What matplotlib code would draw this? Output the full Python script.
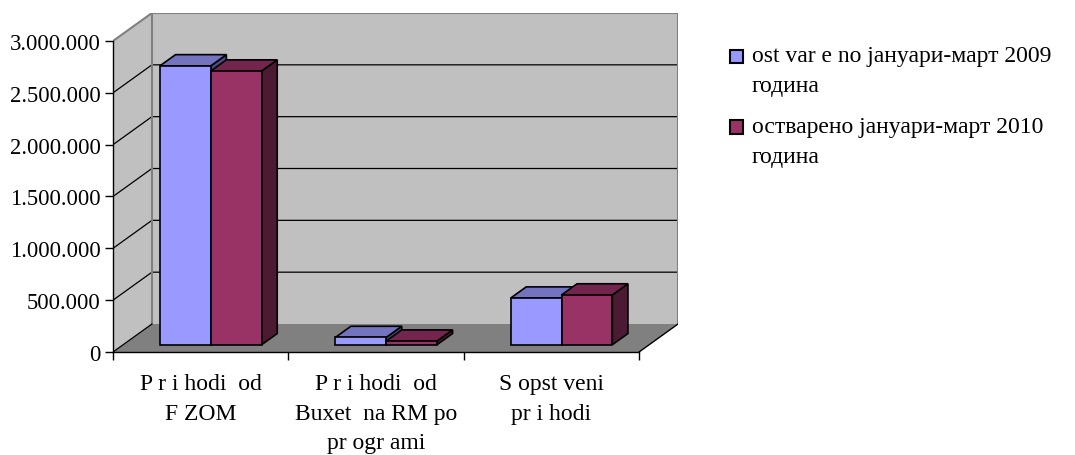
import numpy as np
import matplotlib
matplotlib.use("Agg")
import matplotlib.pyplot as plt
from matplotlib.patches import Polygon, Rectangle

# data
categories = ["P r i hodi  od\nF ZOM", "P r i hodi  od\nBuxet  na RM po\npr ogr ami", "S opst veni\npr i hodi"]
series_names = ["ost var e no јануари-март 2009\nгодина", "остварено јануари-март 2010\nгодина"]
values_2009 = [2690000, 70000, 450000]
values_2010 = [2640000, 35000, 480000]
y_ticks = [0, 500000, 1000000, 1500000, 2000000, 2500000, 3000000]
y_tick_labels = ["0", "500.000", "1.000.000", "1.500.000", "2.000.000", "2.500.000", "3.000.000"]

plt.rcParams["font.family"] = ["Liberation Serif", "DejaVu Serif"]

face = [("#9999FF", "#7373C0", "#4C4C80"), ("#993366", "#73264D", "#4D1A33")]

fig = plt.figure(figsize=(10.75, 4.56), dpi=100)
ax = fig.add_axes([113 / 1075, 103 / 456, 565 / 1075, 339 / 456])

n = len(categories)
ymax = y_ticks[-1]
dxf = 0.222          # full floor depth, in category units
dyf = 0.270e6        # full floor depth, in value units
ax.set_xlim(0, n + dxf)
ax.set_ylim(0, ymax + dyf)
ax.patch.set_visible(False)

# walls and floor
ax.add_patch(Polygon([(0, 0), (0, ymax), (dxf, ymax + dyf), (dxf, dyf)],
                     closed=True, fc="#C0C0C0", ec="none", zorder=0))
ax.add_patch(Polygon([(dxf, dyf), (n + dxf, dyf), (n + dxf, ymax + dyf), (dxf, ymax + dyf)],
                     closed=True, fc="#C0C0C0", ec="none", zorder=0))
ax.add_patch(Polygon([(0, 0), (n, 0), (n + dxf, dyf), (dxf, dyf)],
                     closed=True, fc="#808080", ec="none", zorder=0.5))

for v in y_ticks[1:-1]:
    ax.plot([0, dxf, n + dxf], [v, v + dyf, v + dyf], color="black", lw=0.9, zorder=0.6)

ax.plot([0, dxf, n + dxf, n + dxf], [ymax, ymax + dyf, ymax + dyf, dyf], color="#808080", lw=1.5, zorder=0.6)
ax.plot([dxf, dxf], [dyf, ymax + dyf], color="#808080", lw=1.5, zorder=0.6)
ax.plot([0, dxf], [0, dyf], color="black", lw=0.9, zorder=0.7)
ax.plot([n, n + dxf], [0, dyf], color="black", lw=1.0, zorder=0.7)

# bars with 3D faces
f1, fd = 0.26, 0.40
bw = 0.29
base = f1 * dyf
ddx, ddy = fd * dxf, fd * dyf
x_centers = np.arange(n) + 0.5 + f1 * dxf

for s, vals in enumerate([values_2009, values_2010]):
    fc, tc, sc = face[s]
    lefts = x_centers - bw + s * bw
    for xl, v in zip(lefts, vals):
        top = base + v
        ax.add_patch(Polygon([(xl + bw, base), (xl + bw + ddx, base + ddy),
                              (xl + bw + ddx, top + ddy), (xl + bw, top)],
                             closed=True, fc=sc, ec="black", lw=1.2, zorder=2 + s))
        ax.add_patch(Polygon([(xl, top), (xl + bw, top), (xl + bw + ddx, top + ddy), (xl + ddx, top + ddy)],
                             closed=True, fc=tc, ec="black", lw=1.2, zorder=2 + s))
    ax.bar(lefts, vals, width=bw, bottom=base, align="edge", color=fc,
           edgecolor="black", linewidth=1.2, zorder=2.1 + s)

# axes
for side in ["top", "right"]:
    ax.spines[side].set_visible(False)
ax.spines["left"].set_bounds(0, ymax)
ax.spines["bottom"].set_bounds(0, n)
ax.spines["left"].set_linewidth(1.0)
ax.spines["bottom"].set_linewidth(1.0)

ax.set_yticks(y_ticks)
ax.set_yticklabels(y_tick_labels, fontsize=16.3)
ax.tick_params(axis="y", direction="out", length=6, width=1.0, pad=3)

ax.set_xticks(np.arange(n + 1))
ax.set_xticklabels([])
ax.tick_params(axis="x", which="major", direction="out", length=6, width=1.0)
ax.set_xticks(np.arange(n) + 0.5, minor=True)
ax.set_xticklabels(categories, minor=True, fontsize=17)
ax.tick_params(axis="x", which="minor", length=0, pad=15)
for lab in ax.get_xticklabels(minor=True):
    lab.set_linespacing(1.55)

# legend
leg_rows = [[62, 92], [133, 163]]
for s, name in enumerate(series_names):
    sq_y = leg_rows[s][0] - 5
    fig.patches.append(Rectangle((730 / 1075, 1 - (sq_y + 6.5) / 456), 13 / 1075, 13 / 456,
                                 transform=fig.transFigure, fc=face[s][0], ec="black", lw=1.5))
    for line, yb in zip(name.split("\n"), leg_rows[s]):
        fig.text(752 / 1075, 1 - yb / 456, line, fontsize=17, va="baseline", ha="left")

fig.savefig("out.png", dpi=100)
